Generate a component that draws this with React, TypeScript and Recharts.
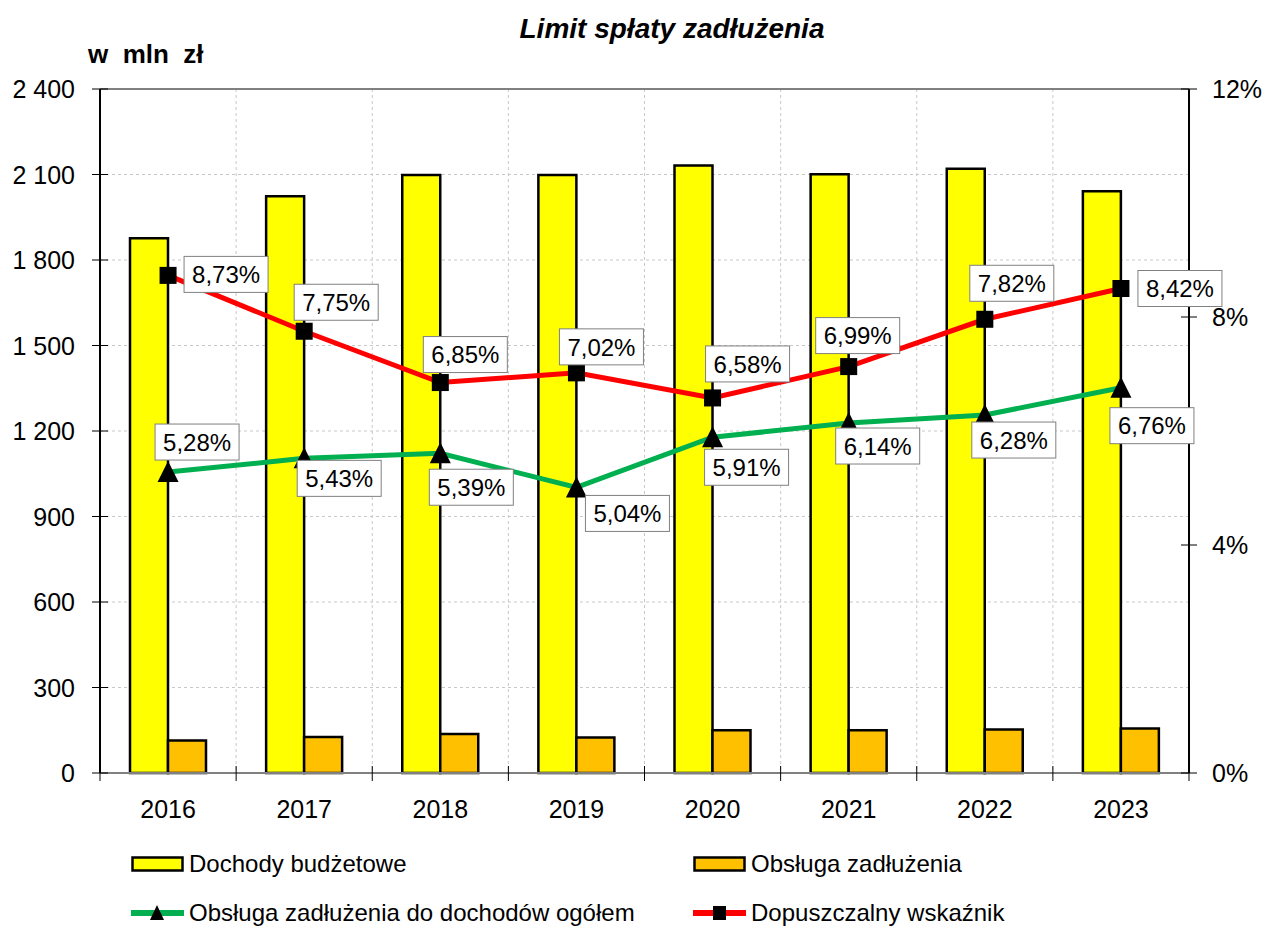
import React from 'react';
import {
  ComposedChart,
  Bar,
  Line,
  XAxis,
  YAxis,
  CartesianGrid,
  Legend,
  LabelList,
  ReferenceLine,
} from 'recharts';

// ---------- data ----------
const lata = ['2016', '2017', '2018', '2019', '2020', '2021', '2022', '2023'];
const dochodyBudzetowe = [1876, 2024, 2098, 2098, 2132, 2101, 2120, 2041];
const obslugaZadluzenia = [114, 126, 137, 125, 150, 150, 153, 156];
const obslugaDoDochodow = [5.28, 5.52, 5.61, 5.01, 5.89, 6.14, 6.28, 6.76];
const obslugaDoDochodowEtykiety = ['5,28%', '5,43%', '5,39%', '5,04%', '5,91%', '6,14%', '6,28%', '6,76%'];
const dopuszczalnyWskaznik = [8.73, 7.75, 6.85, 7.02, 6.58, 7.13, 7.96, 8.5];
const dopuszczalnyEtykiety = ['8,73%', '7,75%', '6,85%', '7,02%', '6,58%', '6,99%', '7,82%', '8,42%'];
const leftTicks = [0, 300, 600, 900, 1200, 1500, 1800, 2100, 2400];
const rightTicks = [0, 4, 8, 12];

const data = lata.map((rok, i) => ({
  rok,
  dochody: dochodyBudzetowe[i],
  obsluga: obslugaZadluzenia[i],
  relacja: obslugaDoDochodow[i],
  wskaznik: dopuszczalnyWskaznik[i],
}));

// ---------- styles ----------
const FONT = '"Liberation Sans", Arial, Helvetica, sans-serif';
const W = 1264;
const H = 927;
const redOffsets = [
  [58, -1], [32, -29], [25, -28], [25, -26], [35, -34], [9, -31], [27, -36], [59, 0],
];
const greenOffsets = [
  [29, -30], [35, 20], [31, 34], [51, 26], [34, 30], [29, 23], [29, 25], [31, 38],
];

const formatLeft = (v: number) =>
  v >= 1000 ? `${Math.floor(v / 1000)} ${String(v % 1000).padStart(3, '0')}` : String(v);

const LeftTick = (props: any) => {
  const { x, y, payload } = props;
  return (
    <g>
      <line x1={x - 8} x2={x + 8} y1={y} y2={y} stroke="#000" strokeWidth={1} />
      <text x={x - 25} y={y} dy="0.36em" textAnchor="end" fontSize={25} fontFamily={FONT} fill="#000">
        {formatLeft(payload.value)}
      </text>
    </g>
  );
};

const RightTick = (props: any) => {
  const { x, y, payload } = props;
  return (
    <g>
      <line x1={x - 8} x2={x + 8} y1={y} y2={y} stroke="#000" strokeWidth={1} />
      <text x={x + 23} y={y} dy="0.36em" textAnchor="start" fontSize={25} fontFamily={FONT} fill="#000">
        {`${payload.value}%`}
      </text>
    </g>
  );
};

const XTick = (props: any) => {
  const { x, y, payload, index, width } = props;
  const band = (width || 1089) / lata.length;
  const left = x - band / 2;
  return (
    <g>
      <line x1={left} x2={left} y1={y - 7} y2={y + 8} stroke="#000" strokeWidth={1} />
      {index === lata.length - 1 && (
        <line x1={x + band / 2} x2={x + band / 2} y1={y - 7} y2={y + 8} stroke="#000" strokeWidth={1} />
      )}
      <text x={x} y={y + 36} dy="0.36em" textAnchor="middle" fontSize={25} fontFamily={FONT} fill="#000">
        {payload.value}
      </text>
    </g>
  );
};

const makeLabel = (texts: string[], offsets: number[][]) => (props: any) => {
  const { index } = props;
  const x = props.x ?? props.viewBox?.x;
  const y = props.y ?? props.viewBox?.y;
  if (x == null || y == null || index == null) return null;
  const [dx, dy] = offsets[index];
  const cx = x + dx;
  const cy = y + dy;
  const bw = 84;
  const bh = 36;
  return (
    <g>
      <rect x={cx - bw / 2} y={cy - bh / 2} width={bw} height={bh} fill="#fff" stroke="#808080" strokeWidth={1} />
      <text x={cx} y={cy} dy="0.36em" textAnchor="middle" fontSize={24} fontFamily={FONT} fill="#000">
        {texts[index]}
      </text>
    </g>
  );
};

const SquareDot = (props: any) => {
  const { cx, cy, index } = props;
  if (cx == null || cy == null) return <g key={`s${index}`} />;
  return <rect key={`s${index}`} x={cx - 8.5} y={cy - 8.5} width={17} height={17} fill="#000" />;
};

const TriangleDot = (props: any) => {
  const { cx, cy, index } = props;
  if (cx == null || cy == null) return <g key={`t${index}`} />;
  return (
    <polygon
      key={`t${index}`}
      points={`${cx},${cy - 11} ${cx + 10.5},${cy + 10} ${cx - 10.5},${cy + 10}`}
      fill="#000"
    />
  );
};

const legendItems = [
  { label: 'Dochody budżetowe', kind: 'bar', color: '#FFFF00', x: 131, y: 864 },
  { label: 'Obsługa zadłużenia', kind: 'bar', color: '#FFC000', x: 693, y: 864 },
  { label: 'Obsługa zadłużenia do dochodów ogółem', kind: 'tri', color: '#00B050', x: 131, y: 913 },
  { label: 'Dopuszczalny wskaźnik', kind: 'sq', color: '#FF0000', x: 693, y: 913 },
];

const renderLegend = () => (
  <div style={{ position: 'relative', width: W, height: H, fontFamily: FONT }}>
    {legendItems.map((it) => (
      <div key={it.label} style={{ position: 'absolute', left: it.x, top: it.y - 14, height: 28, display: 'flex', alignItems: 'center' }}>
        <svg width={54} height={28} style={{ display: 'block' }}>
          {it.kind === 'bar' && (
            <rect x={1.5} y={7.5} width={50} height={13} fill={it.color} stroke="#000" strokeWidth={2.5} />
          )}
          {it.kind !== 'bar' && <line x1={0} x2={53} y1={14} y2={14} stroke={it.color} strokeWidth={6} />}
          {it.kind === 'tri' && <polygon points="26,6 33,21 19,21" fill="#000" />}
          {it.kind === 'sq' && <rect x={20} y={7} width={13} height={14} fill="#000" />}
        </svg>
        <span style={{ fontSize: 24, lineHeight: '28px', marginLeft: 4, whiteSpace: 'nowrap', color: '#000' }}>
          {it.label}
        </span>
      </div>
    ))}
  </div>
);

export default function App() {
  return (
    <div style={{ position: 'relative', width: W, height: H, fontFamily: FONT, background: '#fff', overflow: 'hidden' }}>
      <style>{'html,body{margin:0;padding:0;overflow:hidden;}'}</style>
      <div
        style={{
          position: 'absolute',
          left: 8,
          width: 1328,
          top: 15,
          textAlign: 'center',
          fontSize: 28,
          lineHeight: '28px',
          fontWeight: 'bold',
          fontStyle: 'italic',
          color: '#000',
          zIndex: 2,
        }}
      >
        Limit spłaty zadłużenia
      </div>
      <div
        style={{
          position: 'absolute',
          left: 88,
          top: 41,
          fontSize: 26,
          lineHeight: '26px',
          fontWeight: 'bold',
          whiteSpace: 'pre',
          color: '#000',
          zIndex: 2,
        }}
      >
        {'w  mln  zł'}
      </div>
      <ComposedChart
        width={W}
        height={H}
        data={data}
        margin={{ top: 89, right: 0, bottom: 100, left: 0 }}
        barGap={0}
      >
        <CartesianGrid
          yAxisId="left"
          stroke="#c8c8c8"
          strokeDasharray="3 3"
          verticalCoordinatesGenerator={({ offset }: any) =>
            lata.slice(1).map((_, i) => offset.left + (offset.width * (i + 1)) / lata.length)
          }
        />
        <XAxis
          dataKey="rok"
          height={54}
          interval={0}
          tickSize={0}
          tickMargin={0}
          tickLine={false}
          axisLine={{ stroke: '#808080', strokeWidth: 2 }}
          tick={<XTick />}
        />
        <YAxis
          yAxisId="left"
          orientation="left"
          width={100}
          domain={[0, 2400]}
          ticks={leftTicks}
          interval={0}
          tickSize={0}
          tickMargin={0}
          tickLine={false}
          axisLine={{ stroke: '#000', strokeWidth: 2 }}
          tick={<LeftTick />}
        />
        <YAxis
          yAxisId="right"
          orientation="right"
          width={75}
          domain={[0, 12]}
          ticks={rightTicks}
          interval={0}
          tickSize={0}
          tickMargin={0}
          tickLine={false}
          axisLine={{ stroke: '#000', strokeWidth: 2 }}
          tick={<RightTick />}
        />
        <ReferenceLine yAxisId="left" y={2400} stroke="#808080" strokeWidth={2} />
        <Bar
          yAxisId="left"
          dataKey="dochody"
          name="Dochody budżetowe"
          fill="#FFFF00"
          stroke="#000"
          strokeWidth={2.5}
          barSize={38}
          isAnimationActive={false}
        />
        <Bar
          yAxisId="left"
          dataKey="obsluga"
          name="Obsługa zadłużenia"
          fill="#FFC000"
          stroke="#000"
          strokeWidth={2.5}
          barSize={38}
          isAnimationActive={false}
        />
        <Line
          yAxisId="right"
          dataKey="relacja"
          name="Obsługa zadłużenia do dochodów ogółem"
          stroke="#00B050"
          strokeWidth={5}
          dot={TriangleDot}
          activeDot={false}
          isAnimationActive={false}
        >
          <LabelList dataKey="relacja" content={makeLabel(obslugaDoDochodowEtykiety, greenOffsets)} />
        </Line>
        <Line
          yAxisId="right"
          dataKey="wskaznik"
          name="Dopuszczalny wskaźnik"
          stroke="#FF0000"
          strokeWidth={5}
          dot={SquareDot}
          activeDot={false}
          isAnimationActive={false}
        >
          <LabelList dataKey="wskaznik" content={makeLabel(dopuszczalnyEtykiety, redOffsets)} />
        </Line>
        <Legend
          verticalAlign="middle"
          align="center"
          layout="horizontal"
          content={renderLegend}
          wrapperStyle={{ top: 0, left: 0, width: W, height: H, pointerEvents: 'none' }}
        />
      </ComposedChart>
    </div>
  );
}
